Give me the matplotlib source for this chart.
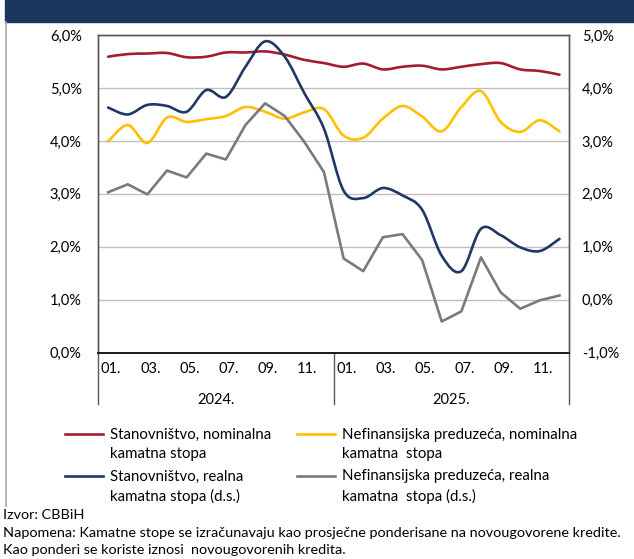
import matplotlib
matplotlib.use('Agg')
import matplotlib.pyplot as plt
import matplotlib.transforms as mtransforms
from matplotlib.path import Path
from matplotlib.patches import PathPatch, Rectangle
from matplotlib.lines import Line2D
import numpy as np

plt.rcParams['font.family'] = ['Lato', 'DejaVu Sans']

# monthly data, 01.2024 - 12.2025
months = list(range(24))
month_labels = ['01.', '03.', '05.', '07.', '09.', '11.'] * 2
years = ['2024.', '2025.']
stan_nom = [5.59, 5.64, 5.65, 5.66, 5.58, 5.59, 5.67, 5.67, 5.69, 5.63, 5.53, 5.47,
            5.40, 5.46, 5.35, 5.40, 5.42, 5.35, 5.40, 5.45, 5.47, 5.35, 5.32, 5.25]
nfc_nom = [3.99, 4.30, 3.96, 4.44, 4.36, 4.41, 4.47, 4.64, 4.55, 4.42, 4.54, 4.60,
           4.10, 4.06, 4.42, 4.66, 4.46, 4.18, 4.64, 4.94, 4.36, 4.17, 4.39, 4.18]
stan_real = [3.63, 3.50, 3.68, 3.66, 3.55, 3.96, 3.83, 4.40, 4.88, 4.59, 3.90, 3.23,
             2.06, 1.92, 2.11, 1.97, 1.70, 0.83, 0.54, 1.34, 1.22, 0.99, 0.92, 1.15]
nfc_real = [2.03, 2.18, 1.99, 2.44, 2.31, 2.76, 2.65, 3.30, 3.71, 3.47, 2.98, 2.41,
            0.78, 0.54, 1.18, 1.24, 0.75, -0.41, -0.22, 0.80, 0.14, -0.17, -0.01, 0.08]

RED = '#a51c30'
YEL = '#ffc000'
NAVY = '#1f3864'
GRAY = '#7a7a7a'
FS = 10.5

W, H = 634, 559
def fx(x):
    return x / W
def fy(y):
    return 1 - y / H


def smooth_path(x, y):
    # excel-like smoothed line: cubic bezier through the points
    pts = np.column_stack([x, y]).astype(float)
    n = len(pts)
    verts = [pts[0]]
    codes = [Path.MOVETO]
    for i in range(n - 1):
        p0 = pts[max(i - 1, 0)]
        p1 = pts[i]
        p2 = pts[i + 1]
        p3 = pts[min(i + 2, n - 1)]
        verts += [p1 + (p2 - p0) / 6, p2 - (p3 - p1) / 6, p2]
        codes += [Path.CURVE4] * 3
    return Path(verts, codes)


fig = plt.figure(figsize=(6.34, 5.59), dpi=100)
ax = fig.add_axes([fx(98.3), fy(352.7), fx(569.3) - fx(98.3), fy(35) - fy(352.7)])
ax2 = ax.twinx()

ax.set_xlim(-0.5, 23.5)
ax.set_ylim(0, 6)
ax2.set_ylim(-1, 5)

ax.set_yticks(range(0, 7))
ax.set_yticklabels(['%d,0%%' % v for v in range(0, 7)], fontsize=FS)
ax2.set_yticks(range(-1, 6))
ax2.set_yticklabels(['%d,0%%' % v for v in range(-1, 6)], fontsize=FS)
ax.tick_params(axis='y', length=0, pad=12)
ax2.tick_params(axis='y', length=0, pad=9)
ax.yaxis.grid(True, color='#bfbfbf', lw=1)
ax.set_axisbelow(True)

ax.set_xticks(months[::2])
ax.set_xticklabels(month_labels, fontsize=FS)
ax.tick_params(axis='x', length=0, pad=7)
shift = mtransforms.ScaledTranslation(3 / 100, 0, fig.dpi_scale_trans)
for lbl in ax.get_xticklabels():
    lbl.set_transform(lbl.get_transform() + shift)

for a in (ax, ax2):
    for s in ('left', 'top', 'right'):
        a.spines[s].set_color('#595959')
        a.spines[s].set_linewidth(1)
    a.spines['bottom'].set_color('#1a1a1a')
    a.spines['bottom'].set_linewidth(1.2)

ax.add_patch(PathPatch(smooth_path(months, stan_nom), fill=False, edgecolor=RED,
                       lw=1.9, capstyle='round', joinstyle='round', zorder=3))
ax.add_patch(PathPatch(smooth_path(months, nfc_nom), fill=False, edgecolor=YEL,
                       lw=1.9, capstyle='round', joinstyle='round', zorder=3))
ax2.add_patch(PathPatch(smooth_path(months, stan_real), fill=False, edgecolor=NAVY,
                        lw=1.9, capstyle='round', joinstyle='round', zorder=3))
ax2.plot(months, nfc_real, color=GRAY, lw=1.9, zorder=2)

# multi-level category axis
trans = mtransforms.blended_transform_factory(ax.transData, ax.transAxes)
axh = 352.7 - 35
for xv in (-0.5, 11.5, 23.5):
    ax.plot([xv, xv], [0, -(404 - 352.7) / axh], transform=trans, clip_on=False,
            color='#595959', lw=1)
for i, yr in enumerate(years):
    ax.text(5.5 + 12 * i, -(400 - 352.7) / axh, yr, transform=trans, ha='center',
            va='center', fontsize=FS)

# header bar and frame line
fig.patches.append(Rectangle((fx(5), fy(22)), fx(634) - fx(5), fy(0) - fy(22),
                             transform=fig.transFigure, color='#1b365d'))
fig.add_artist(Line2D([fx(6), fx(6)], [fy(22), fy(506)], color='#a6a6a6', lw=1.2))

# legend
leg = [(RED, 'Stanovništvo, nominalna\nkamatna stopa', 65, 434),
       (YEL, 'Nefinansijska preduzeća, nominalna\nkamatna  stopa', 297, 434),
       (NAVY, 'Stanovništvo, realna\nkamatna stopa (d.s.)', 65, 476),
       (GRAY, 'Nefinansijska preduzeća, realna\nkamatna  stopa (d.s.)', 297, 476)]
for col, lab, x0, y0 in leg:
    fig.add_artist(Line2D([fx(x0), fx(x0 + 38)], [fy(y0), fy(y0)], color=col, lw=1.9))
    fig.text(fx(x0 + 45), fy(y0 + 10.5), lab, ha='left', va='center', fontsize=10.8,
             linespacing=1.42)

# footer
fig.text(fx(3), fy(515), 'Izvor: CBBiH', ha='left', va='center', fontsize=10.4)
fig.text(fx(3), fy(533), 'Napomena: Kamatne stope se izračunavaju kao prosječne '
         'ponderisane na novougovorene kredite.', ha='left', va='center', fontsize=10.4)
fig.text(fx(3), fy(550), 'Kao ponderi se koriste iznosi  novougovorenih kredita.',
         ha='left', va='center', fontsize=10.4)

plt.savefig('out.png', dpi=100, facecolor='white')
